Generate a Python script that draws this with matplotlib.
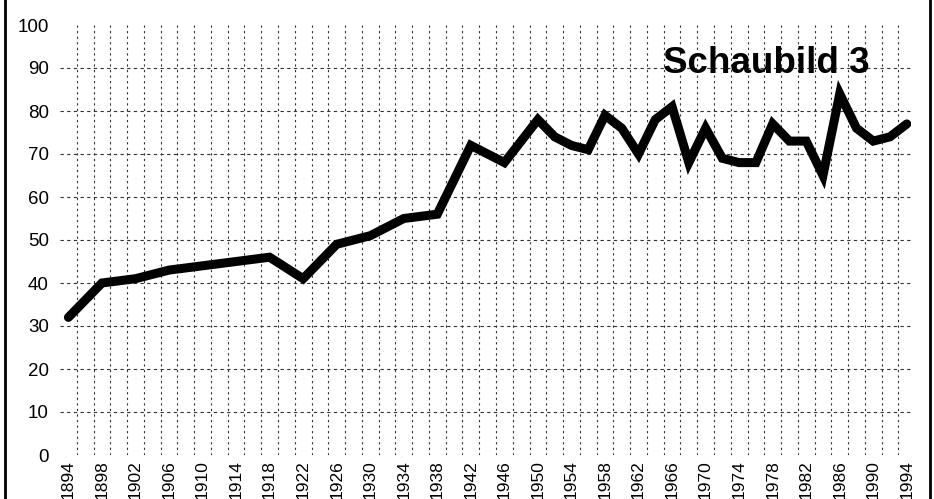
import matplotlib
matplotlib.use("Agg")
import matplotlib.pyplot as plt
from matplotlib.lines import Line2D

years = [1894, 1898, 1902, 1906, 1910, 1914, 1918, 1922, 1926, 1930, 1934, 1938,
         1942, 1946, 1950, 1952, 1954, 1956, 1958, 1960, 1962, 1964, 1966, 1968,
         1970, 1972, 1974, 1976, 1978, 1980, 1982, 1984, 1986, 1988, 1990, 1992, 1994]
values = [32, 40, 41, 43, 44, 45, 46, 41, 49, 51, 55, 56,
          72, 68, 78, 74, 72, 71, 79, 76, 70, 78, 81, 68,
          76, 69, 68, 68, 77, 73, 73, 65, 84, 76, 73, 74, 77]
x_tick_years = list(range(1894, 1995, 4))
grid_years = list(range(1895, 1994, 2))
y_ticks = list(range(0, 101, 10))
y_grid = list(range(10, 91, 10))
label_text = "Schaubild 3"

FONT = ['Liberation Sans Narrow', 'Liberation Sans', 'DejaVu Sans']

fig = plt.figure(figsize=(9.34, 4.99), dpi=100)
ax = fig.add_axes([60/934, 1 - 455/499, (911-60)/934, 430/499])

ax.set_xlim(1893.0, 1994.5)
ax.set_ylim(0, 100)

for yv in y_grid:
    ax.axhline(yv, color='#333333', lw=0.8, ls=(0, (3, 3)), zorder=1)
for xv in grid_years:
    ax.axvline(xv, color='#333333', lw=0.8, ls=(0, (2, 3)), zorder=1)

ax.plot(years, values, color='black', lw=6.5, solid_joinstyle='miter',
        solid_capstyle='round', zorder=3)

ax.set_xticks(x_tick_years)
ax.set_xticklabels([str(y) for y in x_tick_years], rotation=90, family=FONT, fontsize=12.5)
ax.set_yticks(y_ticks)
ax.set_yticklabels([str(v) for v in y_ticks], family=FONT, fontsize=13.5)
ax.tick_params(length=0, pad=8)
ax.tick_params(axis='x', pad=4)
for s in ax.spines.values():
    s.set_visible(False)

ax.text(1989.6, 91.0, label_text, ha='right', va='center', fontsize=26.5,
        fontweight='bold', family=['Liberation Sans', 'DejaVu Sans'], zorder=4)

fig.add_artist(Line2D([5/934, 5/934], [0, 1], transform=fig.transFigure, color='black', lw=2))
fig.add_artist(Line2D([930/934, 930/934], [0, 1], transform=fig.transFigure, color='black', lw=2))

fig.savefig("out.png", dpi=100)
